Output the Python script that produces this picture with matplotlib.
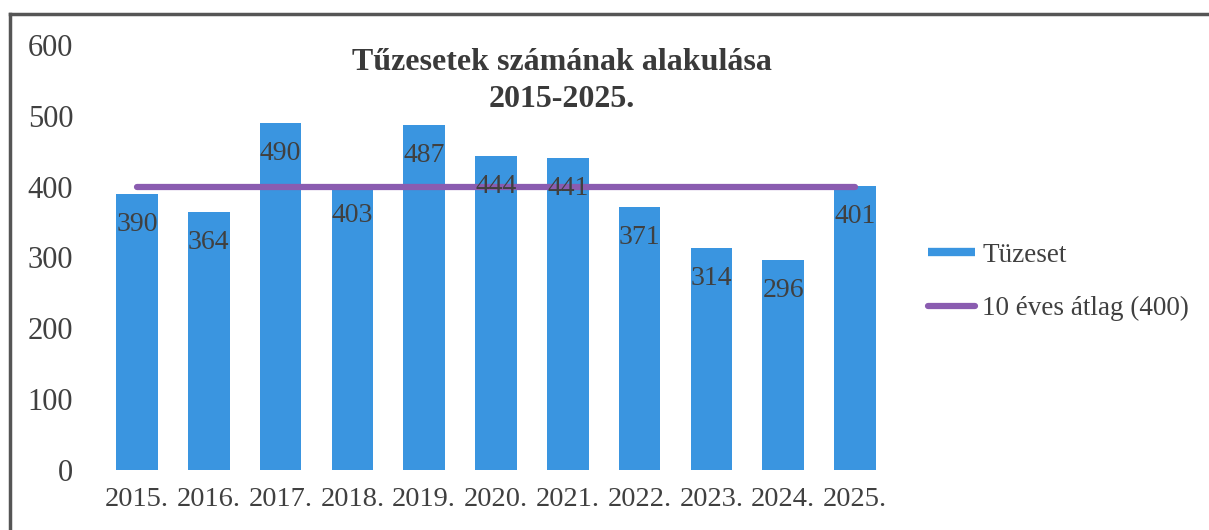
import matplotlib
matplotlib.use("Agg")
import matplotlib.pyplot as plt
from matplotlib.lines import Line2D

evek = ["2015.", "2016.", "2017.", "2018.", "2019.", "2020.", "2021.",
        "2022.", "2023.", "2024.", "2025."]
tuzesetek = [390, 364, 490, 403, 487, 444, 441, 371, 314, 296, 401]
atlag = [400] * len(evek)

plt.rcParams['font.family'] = ['Liberation Serif', 'DejaVu Serif']

kek = "#3a95e0"
lila = "#8a5cb0"
szurke = "#404040"

fig = plt.figure(figsize=(12.09, 5.30), dpi=100)
ax = fig.add_axes([101 / 1209, 60 / 530, 790 / 1209, 425 / 530])

x = list(range(len(evek)))
ax.bar(x, tuzesetek, width=0.58, color=kek, label="Tüzeset", zorder=2)
ax.plot(x, atlag, color=lila, lw=4.5, solid_capstyle="round", zorder=3,
        label="10 éves átlag (400)")

for i, v in enumerate(tuzesetek):
    ax.annotate(str(v), (i, v), xytext=(0, -22), textcoords="offset points",
                ha="center", va="center", fontsize=20, color=szurke, zorder=4)

ax.set_xlim(-0.5, len(evek) - 0.5)
ax.set_ylim(0, 600)
ax.set_yticks([0, 100, 200, 300, 400, 500, 600])
ax.set_xticks(x)
ax.set_xticklabels(evek)
ax.tick_params(length=0, colors=szurke)
ax.tick_params(axis="y", pad=20, labelsize=22)
ax.tick_params(axis="x", pad=12, labelsize=20.5)
for s in ax.spines.values():
    s.set_visible(False)

fig.text(562 / 1209, 1 - 81 / 530, "Tűzesetek számának alakulása\n2015-2025.",
         ha="center", va="center", fontsize=23, fontweight="bold",
         color="#3a3a3a", linespacing=1.33)

kezelok = [Line2D([], [], color=kek, lw=6, solid_capstyle="butt"),
           Line2D([], [], color=lila, lw=4.5, solid_capstyle="round")]
fig.legend(kezelok, ["Tüzeset", "10 éves átlag (400)"], loc="center left",
           bbox_to_anchor=(928 / 1209, 1 - 282 / 530), frameon=False,
           fontsize=19.5, handlelength=1.75, handletextpad=0.25,
           labelspacing=1.05, borderpad=0, borderaxespad=0, labelcolor=szurke)

# keret (csak felso es bal oldal latszik a szkennelt kepen)
fig.add_artist(Line2D([10 / 1209, 1], [1 - 14 / 530, 1 - 14 / 530],
                      color="#555555", lw=2.5, transform=fig.transFigure))
fig.add_artist(Line2D([10 / 1209, 10 / 1209], [0, 1 - 14 / 530],
                      color="#555555", lw=2.5, transform=fig.transFigure))

fig.savefig("out.png", dpi=100, facecolor="white")
